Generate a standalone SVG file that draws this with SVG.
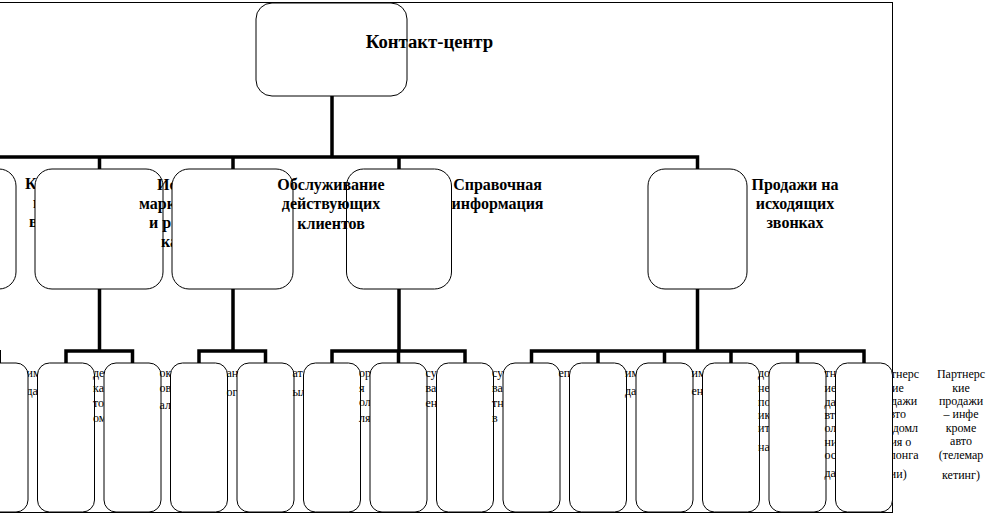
<svg xmlns="http://www.w3.org/2000/svg" width="993" height="516" viewBox="0 0 993 516">
<style>
.frame{fill:none;stroke:#000;stroke-width:1}
.box{fill:#fff;stroke:#000;stroke-width:1}
.open{fill:none;stroke:#000;stroke-width:1}
.conn{fill:none;stroke:#000;stroke-width:3.5;stroke-linejoin:miter}
.thin{fill:none;stroke:#000;stroke-width:1}
text{font-family:"Liberation Serif","Times New Roman",serif;fill:#000}
.t0{font-size:18.7px;font-weight:bold}
.t1{font-size:16px;font-weight:bold}
.t2{font-size:12px}
.m{text-anchor:middle}
</style>
<rect width="993" height="516" fill="#fff"/>
<rect class="frame" x="-5" y="2.5" width="897.5" height="510"/>
<g id="connectors">
<path class="conn" d="M332 96V157M-10 157H697.5V169M99.5 157V169M233 157V169M399 157V169"/>
<path class="conn" d="M99.5 289V351M66 363V351H132.5V363"/>
<path class="conn" d="M233 289V351M199 363V351H265.5V363"/>
<path class="conn" d="M399 289V351M332 363V351H465V363M398.5 351V363"/>
<path class="conn" d="M697.5 289V351M531.5 363V351H864V363M598 351V363M664.5 351V363M731 351V363M797.5 351V363"/>
<path class="thin" d="M0.5 350V363"/>
</g>
<g id="n-root">
<rect class="box" x="256" y="3" width="151" height="93" rx="16"/>
<text class="t0 m" x="429.5" y="48">Контакт-центр</text>
</g>
<g id="n2-a">
<rect class="box" x="-100" y="169" width="116" height="120" rx="17"/>
<text class="t1" x="25" y="189">К</text>
<text class="t1" x="33" y="208">н</text>
<text class="t1" x="29" y="227">в</text>
</g>
<g id="n2-b">
<rect class="box" x="35" y="169" width="128" height="120" rx="17"/>
<text class="t1" x="157" y="190">Ис</text>
<text class="t1" x="139" y="209">марк</text>
<text class="t1" x="149" y="228">и р</text>
<text class="t1" x="161" y="247">ка</text>
</g>
<g id="n2-c">
<rect class="box" x="172" y="169" width="121" height="120" rx="17"/>
</g>
<g id="n2-d">
<rect class="open" x="346.5" y="169" width="105" height="120" rx="17"/>
<text class="t1 m" x="331" y="190">Обслуживание</text>
<text class="t1 m" x="331" y="209">действующих</text>
<text class="t1 m" x="331" y="229">клиентов</text>
<text class="t1 m" x="497.5" y="190">Справочная</text>
<text class="t1 m" x="497.5" y="209">информация</text>
</g>
<g id="n2-e">
<rect class="box" x="648" y="169" width="99" height="120" rx="17"/>
<text class="t1 m" x="795" y="190">Продажи на</text>
<text class="t1 m" x="795" y="209">исходящих</text>
<text class="t1 m" x="795" y="228">звонках</text>
</g>
<g id="n3-00">
<text class="t2" x="26.5" y="377">им</text>
<text class="t2" x="26.5" y="395">да</text>
<rect class="box" x="-29" y="363" width="57" height="149" rx="12"/>
</g>
<g id="n3-01">
<rect class="box" x="37.5" y="363" width="57" height="149" rx="12"/>
<text class="t2" x="93" y="377">де</text>
<text class="t2" x="93" y="392">ка</text>
<text class="t2" x="93" y="407">то</text>
<text class="t2" x="93" y="422">ом</text>
</g>
<g id="n3-02">
<rect class="box" x="104" y="363" width="57" height="149" rx="12"/>
<text class="t2" x="159.5" y="377">ок</text>
<text class="t2" x="159.5" y="392">ов</text>
<text class="t2" x="159.5" y="409">ал</text>
</g>
<g id="n3-03">
<rect class="box" x="170.5" y="363" width="57" height="149" rx="12"/>
<text class="t2" x="226.5" y="377">ан</text>
<text class="t2" x="226.5" y="396">ог</text>
</g>
<g id="n3-04">
<rect class="box" x="237" y="363" width="57" height="149" rx="12"/>
<text class="t2" x="292.5" y="377">ат</text>
<text class="t2" x="292.5" y="396">ыл</text>
</g>
<g id="n3-05">
<rect class="box" x="303.5" y="363" width="57" height="149" rx="12"/>
<text class="t2" x="359" y="377">ор</text>
<text class="t2" x="359" y="392">я</text>
<text class="t2" x="359" y="406">ол</text>
<text class="t2" x="359" y="422">ля</text>
</g>
<g id="n3-06">
<rect class="box" x="370" y="363" width="57" height="149" rx="12"/>
<text class="t2" x="425.5" y="377">су</text>
<text class="t2" x="425.5" y="392">ва</text>
<text class="t2" x="425.5" y="407">ен</text>
</g>
<g id="n3-07">
<rect class="box" x="436.5" y="363" width="57" height="149" rx="12"/>
<text class="t2" x="492" y="377">су</text>
<text class="t2" x="492" y="392">ва</text>
<text class="t2" x="492" y="407">тн</text>
<text class="t2" x="492" y="422">в</text>
</g>
<g id="n3-08">
<rect class="box" x="503" y="363" width="57" height="149" rx="12"/>
<text class="t2" x="558.5" y="377">еп</text>
</g>
<g id="n3-09">
<rect class="box" x="569.5" y="363" width="57" height="149" rx="12"/>
<text class="t2" x="625" y="377">им</text>
<text class="t2" x="625" y="395">да</text>
</g>
<g id="n3-10">
<rect class="box" x="636" y="363" width="57" height="149" rx="12"/>
<text class="t2" x="691.5" y="377">им</text>
<text class="t2" x="691.5" y="395">ен</text>
</g>
<g id="n3-11">
<rect class="box" x="702.5" y="363" width="57" height="149" rx="12"/>
<text class="t2" x="758" y="377">до</text>
<text class="t2" x="758" y="392">не</text>
<text class="t2" x="758" y="406">по</text>
<text class="t2" x="758" y="419">ик</text>
<text class="t2" x="758" y="432">ит</text>
<text class="t2" x="758" y="451">на</text>
</g>
<g id="n3-12">
<rect class="box" x="769" y="363" width="57" height="149" rx="12"/>
<text class="t2" x="824.5" y="377">тн</text>
<text class="t2" x="824.5" y="392">ие</text>
<text class="t2" x="824.5" y="406">да</text>
<text class="t2" x="824.5" y="419">вт</text>
<text class="t2" x="824.5" y="432">ол</text>
<text class="t2" x="824.5" y="446">ни</text>
<text class="t2" x="824.5" y="459">ос</text>
<text class="t2" x="824.5" y="477">да</text>
<text class="t2 m" x="895" y="378">Партнерс</text>
<text class="t2 m" x="895" y="392">кие</text>
<text class="t2 m" x="895" y="405">продажи</text>
<text class="t2 m" x="895" y="418">авто</text>
<text class="t2 m" x="895" y="432">(уведомл</text>
<text class="t2 m" x="895" y="446">ения о</text>
<text class="t2 m" x="895" y="459">пролонга</text>
<text class="t2 m" x="895" y="478">ции)</text>
</g>
<g id="n3-13">
<rect class="box" x="835.5" y="363" width="57" height="149" rx="12"/>
<text class="t2 m" x="961" y="378">Партнерс</text>
<text class="t2 m" x="961" y="392">кие</text>
<text class="t2 m" x="961" y="405">продажи</text>
<text class="t2 m" x="961" y="418">– инфе</text>
<text class="t2 m" x="961" y="432">кроме</text>
<text class="t2 m" x="961" y="445">авто</text>
<text class="t2 m" x="961" y="459">(телемар</text>
<text class="t2 m" x="961" y="479">кетинг)</text>
</g>
</svg>
